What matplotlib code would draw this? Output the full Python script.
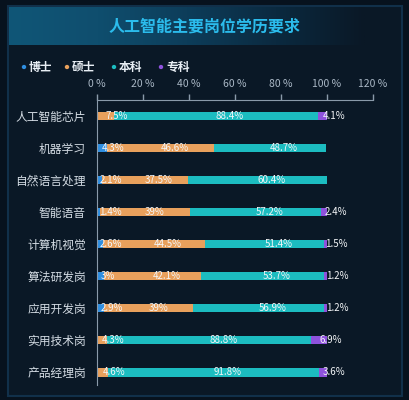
import matplotlib
matplotlib.use("Agg")
import matplotlib.pyplot as plt
import numpy as np
from matplotlib.patches import Rectangle, Circle
from matplotlib.colors import LinearSegmentedColormap

plt.rcParams['font.family'] = ['Noto Sans CJK SC', 'DejaVu Sans']

categories = ['人工智能芯片', '机器学习', '自然语言处理', '智能语音', '计算机视觉',
              '算法研发岗', '应用开发岗', '实用技术岗', '产品经理岗']
series_names = ['博士', '硕士', '本科', '专科']
boshi = [0, 4.3, 2.1, 1.4, 2.6, 3, 2.9, 0, 0]
shuoshi = [7.5, 46.6, 37.5, 39, 44.5, 42.1, 39, 4.3, 4.6]
benke = [88.4, 48.7, 60.4, 57.2, 51.4, 53.7, 56.9, 88.8, 91.8]
zhuanke = [4.1, 0, 0, 2.4, 1.5, 1.2, 1.2, 6.9, 3.6]
xticks = [0, 20, 40, 60, 80, 100, 120]
title = '人工智能主要岗位学历要求'

colors = ['#2f8ee0', '#e8a05c', '#1cbcc0', '#8e52dc']

W, H = 410, 400
fig = plt.figure(figsize=(W / 100, H / 100), dpi=100)
fig.patch.set_facecolor('#07121e')

def fx(px):
    return px / W

def fy(py):
    return 1 - py / H

# panel
fig.patches.append(Rectangle((fx(8), fy(396)), fx(394), (396 - 6) / H,
                             transform=fig.transFigure, facecolor='#0a1826',
                             edgecolor='#11304a', lw=1.5, zorder=-10))

# title bar gradient
gax = fig.add_axes([fx(9), fy(45), fx(356), (45 - 7) / H], zorder=1)
grad = np.linspace(0, 1, 256).reshape(1, -1)
cmap = LinearSegmentedColormap.from_list(
    'g', ['#105677', '#0f4e6e', '#0d3d5a', '#0b2a40', '#0a1826'])
gax.imshow(grad, aspect='auto', cmap=cmap, extent=[0, 1, 0, 1])
gax.set_axis_off()
fig.text(fx(205), fy(27), title, ha='center', va='center', fontsize=11.5,
         fontweight='bold', color='#2bbcec', zorder=5)

# legend
leg_x = [24, 67, 114, 161]
for i, name in enumerate(series_names):
    fig.patches.append(Circle((fx(leg_x[i]), fy(67)), 2.2 / W,
                              transform=fig.transFigure,
                              facecolor=colors[i], edgecolor='none', zorder=5))
    fig.text(fx(leg_x[i] + 5), fy(67), name, ha='left', va='center', fontsize=8.5,
             color='#e8eef4', fontweight='bold', zorder=5)

ax = fig.add_axes([fx(97), fy(385), fx(373) - fx(97), (385 - 100) / H], zorder=2)
ax.set_facecolor('none')
y = np.arange(len(categories))
data = [boshi, shuoshi, benke, zhuanke]
left = np.zeros(len(categories))
for i, vals in enumerate(data):
    vals = np.array(vals, dtype=float)
    ax.barh(y, vals, left=left, height=0.27, color=colors[i], zorder=2)
    for j, v in enumerate(vals):
        if v > 0:
            ax.text(left[j] + v / 2, y[j], f'{v:g}%', ha='left', va='center',
                    fontsize=7, color='#f4f6f8', zorder=3)
    left += vals

ax.set_xlim(0, 120)
ax.set_ylim(8.4, -0.5)
ax.xaxis.set_ticks_position('top')
ax.set_xticks(xticks)
ax.set_xticklabels([f'{t} %' for t in xticks], fontsize=7.5, color='#aab8c6')
ax.tick_params(axis='x', colors='#8a9aaa', labelcolor='#aab8c6', length=4, width=1, pad=4)
ax.set_yticks(y)
ax.set_yticklabels(categories, fontsize=8.5, color='#d4dce4')
ax.tick_params(axis='y', length=0, pad=8)
for s in ['right', 'bottom']:
    ax.spines[s].set_visible(False)
ax.spines['top'].set_color('#8a9aaa')
ax.spines['left'].set_color('#8a9aaa')

fig.savefig('out.png', dpi=100, facecolor=fig.get_facecolor())
